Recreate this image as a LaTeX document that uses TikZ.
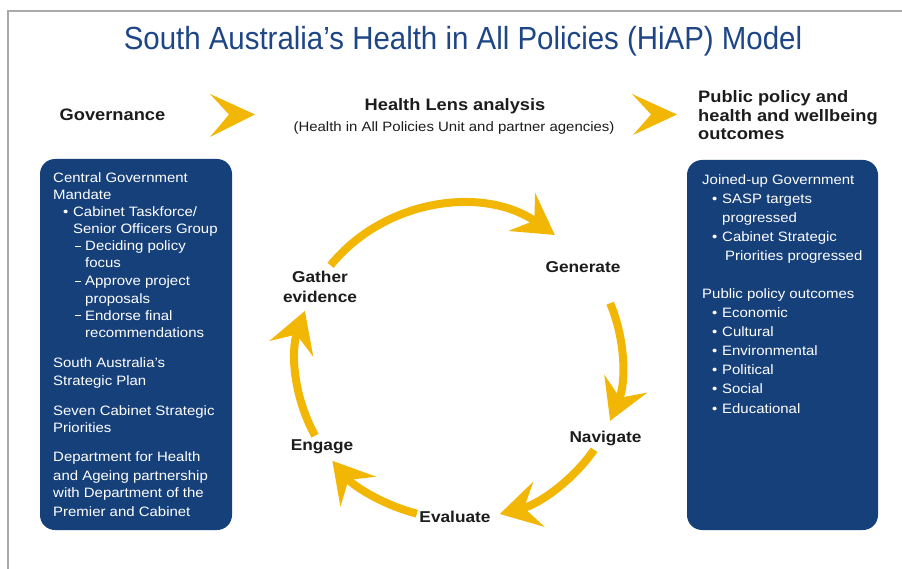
\documentclass[tikz,border=0pt]{standalone}
\usepackage{fontspec}
\setmainfont{Liberation Sans}[FakeStretch=1.1]
\newfontfamily\titlefont{Liberation Sans}[FakeStretch=0.92]
\usetikzlibrary{arrows.meta}
\definecolor{boxblue}{RGB}{22,64,122}
\definecolor{titleblue}{RGB}{30,70,135}
\definecolor{gold}{RGB}{242,183,5}
\definecolor{ink}{RGB}{28,28,28}
\definecolor{frame}{RGB}{170,170,170}
\newcommand{\mybul}{\makebox[10pt][l]{\textbullet}}
\newcommand{\mydash}{\makebox[10pt][l]{\rule[3.8pt]{6pt}{1pt}}}
\tikzset{
  panel/.style={fill=boxblue, rounded corners=15pt},
  boxtxt/.style={text=white, font=\fontsize{13.6}{16}\selectfont, anchor=base west, inner sep=0pt},
  head/.style={text=ink, font=\bfseries\fontsize{16.6}{19}\selectfont, inner sep=0pt},
  sub/.style={text=ink, font=\fontsize{13.6}{16}\selectfont, inner sep=0pt},
  stage/.style={text=ink, font=\bfseries\fontsize{15.7}{19.5}\selectfont, inner sep=0pt, align=center},
  chev/.style={fill=gold},
  cyc/.style={draw=gold, line width=8pt, -{Stealth[length=40pt,width=46pt,inset=15pt]}}
}
\begin{document}
\begin{tikzpicture}[x=1pt,y=-1pt]
\useasboundingbox (0,0) rectangle (902,569);
% frame
\draw[frame, line width=2pt] (8,569) -- (8,11) -- (902,11);
% title
\node[text=titleblue, font=\titlefont\fontsize{32}{36}\selectfont, anchor=base, inner sep=0pt] (title) at (463,50) {South Australia’s Health in All Policies (HiAP) Model};
% headers
\node[head, anchor=base] (gov) at (112.5,121) {Governance};
\node[head, anchor=base] (lens) at (455,111) {Health Lens analysis};
\node[sub, anchor=base] (lenssub) at (454,132) {(Health in All Policies Unit and partner agencies)};
\node[head, anchor=base west] (out1) at (698,103) {Public policy and};
\node[head, anchor=base west] (out2) at (698,122) {health and wellbeing};
\node[head, anchor=base west] (out3) at (698,140) {outcomes};
% chevrons
\fill[chev] (210,94) -- (255,114.5) -- (210,137) -- (229,114.5) -- cycle;
\fill[chev] (632,94) -- (677,114.5) -- (633,135) -- (651,114.5) -- cycle;
% panels
\fill[panel] (40,159) rectangle (232,530);
\fill[panel] (687,160) rectangle (878,530);
% left panel text
\node[boxtxt] (l1) at (53,183) {Central Government};
\node[boxtxt] (l2) at (53,200) {Mandate};
\node[boxtxt] (l3) at (63,217) {\mybul Cabinet Taskforce/};
\node[boxtxt] (l4) at (73,234) {Senior Officers Group};
\node[boxtxt] (l5) at (75,251) {\mydash Deciding policy};
\node[boxtxt] (l6) at (85,268) {focus};
\node[boxtxt] (l7) at (75,286) {\mydash Approve project};
\node[boxtxt] (l8) at (85,303) {proposals};
\node[boxtxt] (l9) at (75,320) {\mydash Endorse final};
\node[boxtxt] (l10) at (85,337) {recommendations};
\node[boxtxt] (l11) at (53,367) {South Australia’s};
\node[boxtxt] (l12) at (53,385) {Strategic Plan};
\node[boxtxt] (l13) at (53,415) {Seven Cabinet Strategic};
\node[boxtxt] (l14) at (53,432) {Priorities};
\node[boxtxt] (l15) at (53,461.5) {Department for Health};
\node[boxtxt] (l16) at (53,480) {and Ageing partnership};
\node[boxtxt] (l17) at (53,497.5) {with Department of the};
\node[boxtxt] (l18) at (53,516) {Premier and Cabinet};
% right panel text
\node[boxtxt] (r1) at (702,185) {Joined-up Government};
\node[boxtxt] (r2) at (712,204) {\mybul SASP targets};
\node[boxtxt] (r3) at (722,223) {progressed};
\node[boxtxt] (r4) at (712,242) {\mybul Cabinet Strategic};
\node[boxtxt] (r5) at (725,261) {Priorities progressed};
\node[boxtxt] (r6) at (702,298.5) {Public policy outcomes};
\node[boxtxt] (r7) at (712,317) {\mybul Economic};
\node[boxtxt] (r8) at (712,336) {\mybul Cultural};
\node[boxtxt] (r9) at (712,355) {\mybul Environmental};
\node[boxtxt] (r10) at (712,374) {\mybul Political};
\node[boxtxt] (r11) at (712,393) {\mybul Social};
\node[boxtxt] (r12) at (712,413) {\mybul Educational};
% cycle labels
\node[stage] (gather) at (320,287) {Gather\\evidence};
\node[stage, anchor=base] (generate) at (583,273) {Generate};
\node[stage, anchor=base] (navigate) at (605.5,442) {Navigate};
\node[stage, anchor=base] (evaluate) at (455,522) {Evaluate};
\node[stage, anchor=base] (engage) at (322,450) {Engage};
% cycle arcs
\coordinate (O) at (459,362);
\coordinate (s1) at ([shift={(-142:163 and 157)}]O);
\coordinate (s2) at ([shift={(-22:163 and 157)}]O);
\coordinate (s3) at ([shift={(34:163 and 157)}]O);
\coordinate (s4) at ([shift={(105:163 and 157)}]O);
\coordinate (s5) at ([shift={(152:163 and 157)}]O);
\draw[cyc] (s1) arc[start angle=-142, end angle=-54, x radius=163, y radius=157];
\draw[cyc] (s2) arc[start angle=-22, end angle=22, x radius=163, y radius=157];
\draw[cyc] (s3) arc[start angle=34, end angle=75.5, x radius=163, y radius=157];
\draw[cyc] (s4) arc[start angle=105, end angle=141, x radius=163, y radius=157];
\draw[cyc] (s5) arc[start angle=152, end angle=199, x radius=163, y radius=157];
\end{tikzpicture}
\end{document}
